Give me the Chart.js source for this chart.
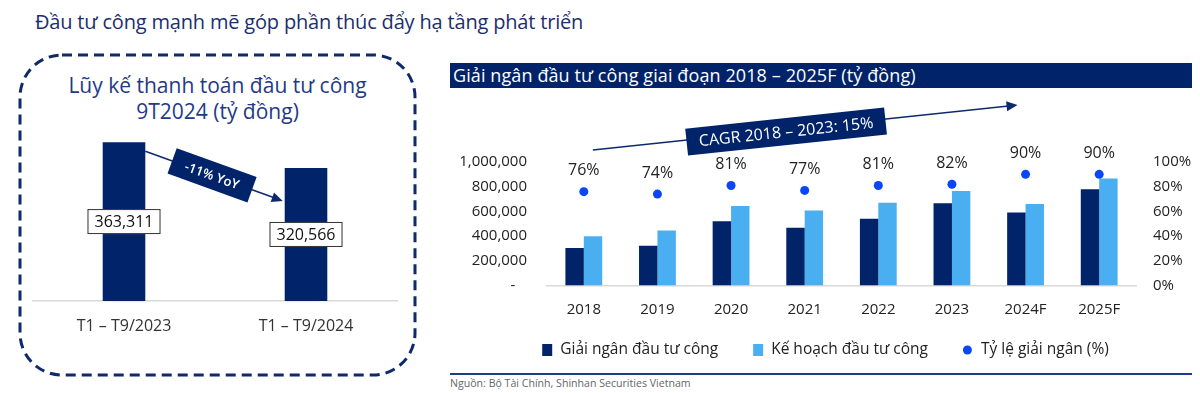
<!DOCTYPE html>
<html><head><meta charset="utf-8">
<script src="https://cdn.jsdelivr.net/npm/chart.js@4.4.1/dist/chart.umd.min.js"></script>
<style>
html,body{margin:0;padding:0;background:#fff;width:1200px;height:393px;overflow:hidden;font-family:'Open Sans',sans-serif;}
.abs{position:absolute;}
#heading{left:35px;top:8px;font-size:20px;letter-spacing:-0.18px;color:#1b2f6e;white-space:nowrap;}
#leftTitle{left:20px;width:395px;top:72px;text-align:center;font-size:21px;line-height:26px;color:#1f3a86;}
#rightBar{left:450px;top:63px;width:742px;height:25px;background:#00236a;}
#rightTitle{left:453px;top:63px;height:25px;line-height:25px;font-size:18px;letter-spacing:0.1px;color:#fff;white-space:nowrap;}
#sep{left:450px;top:373px;width:742px;height:2px;background:#1f3a86;}
#source{left:450px;top:376px;font-size:10.6px;line-height:14px;color:#666;white-space:nowrap;}
</style>
</head>
<body>
<div id="heading" class="abs">Đầu tư công mạnh mẽ góp phần thúc đẩy hạ tầng phát triển</div>
<svg class="abs" style="left:0;top:0" width="440" height="393">
  <rect x="20" y="55" width="395" height="320" rx="42" ry="42" fill="none" stroke="#0f2a6b" stroke-width="3" stroke-dasharray="10 6"/>
</svg>
<div id="leftTitle" class="abs">Lũy kế thanh toán đầu tư công<br>9T2024 (tỷ đồng)</div>
<div class="abs" style="left:20px;top:55px;width:395px;height:320px;"><canvas id="c1" width="395" height="320"></canvas></div>
<div id="rightBar" class="abs"></div>
<div id="rightTitle" class="abs">Giải ngân đầu tư công giai đoạn 2018 – 2025F (tỷ đồng)</div>
<div class="abs" style="left:440px;top:95px;width:760px;height:274px;"><canvas id="c2" width="760" height="274"></canvas></div>
<div id="sep" class="abs"></div>
<div id="source" class="abs">Nguồn: Bộ Tài Chính, Shinhan Securities Vietnam</div>
<script>
// ---- data ----
const periods = ['T1 – T9/2023', 'T1 – T9/2024'];
const payments = [363311, 320566];
const yoyLabel = '-11% YoY';

const categories = ['2018', '2019', '2020', '2021', '2022', '2023', '2024F', '2025F'];
const disbursed = [304000, 322000, 521000, 467000, 540000, 665000, 592000, 780000];
const planned = [398000, 445000, 643000, 608000, 671000, 766000, 660000, 867000];
const rate = [76, 74, 81, 77, 81, 82, 90, 90];
const leftTicks = [0, 200000, 400000, 600000, 800000, 1000000];
const rightTicks = [0, 20, 40, 60, 80, 100];
const cagrLabel = 'CAGR 2018 – 2023: 15%';

const NAVY = '#00236a';
const LIGHT = '#4aaff0';
const DOT = '#0a46f5';
const FONT = 'Open Sans';

Chart.defaults.font.family = FONT;
Chart.defaults.color = '#333';

function arrow(ctx, x0, y0, x1, y1, color) {
  const a = Math.atan2(y1 - y0, x1 - x0);
  ctx.save();
  ctx.strokeStyle = color; ctx.fillStyle = color; ctx.lineWidth = 1.6;
  ctx.beginPath(); ctx.moveTo(x0, y0); ctx.lineTo(x1 - 9 * Math.cos(a), y1 - 9 * Math.sin(a)); ctx.stroke();
  ctx.translate(x1, y1); ctx.rotate(a);
  ctx.beginPath(); ctx.moveTo(0, 0); ctx.lineTo(-11, -5); ctx.lineTo(-11, 5); ctx.closePath(); ctx.fill();
  ctx.restore();
}
function tag(ctx, cx, cy, ang, w, h, text, font) {
  ctx.save();
  ctx.translate(cx, cy); ctx.rotate(ang);
  ctx.fillStyle = NAVY; ctx.fillRect(-w / 2, -h / 2, w, h);
  ctx.fillStyle = '#fff'; ctx.font = font; ctx.textAlign = 'center'; ctx.textBaseline = 'middle';
  ctx.fillText(text, 0, 1);
  ctx.restore();
}

// ---- left chart ----
const leftPlugin = {
  id: 'leftDeco',
  afterDatasetsDraw(chart) {
    const ctx = chart.ctx;
    const meta = chart.getDatasetMeta(0);
    const base = chart.scales.y.getPixelForValue(chart.scales.y.min);
    ctx.save();
    ctx.font = '16px ' + FONT;
    meta.data.forEach((b, i) => {
      const txt = payments[i].toLocaleString('en-US');
      const tw = ctx.measureText(txt).width;
      const w = tw + 14, h = 25;
      const cy = (b.y + base) / 2;
      ctx.fillStyle = '#fff'; ctx.fillRect(b.x - w / 2, cy - h / 2, w, h);
      ctx.strokeStyle = '#333'; ctx.lineWidth = 1; ctx.strokeRect(b.x - w / 2 + 0.5, cy - h / 2 + 0.5, w - 1, h - 1);
      ctx.fillStyle = '#111'; ctx.textAlign = 'center'; ctx.textBaseline = 'middle';
      ctx.fillText(txt, b.x, cy + 1);
    });
    ctx.restore();
    const b0 = meta.data[0], b1 = meta.data[1];
    const x0 = b0.x + b0.width / 2, y0 = b0.y + 9;
    const x1 = b1.x - b1.width / 2 - 2, y1 = b1.y + 33;
    arrow(ctx, x0, y0, x1, y1, '#0f2a6b');
    const t = 0.486;
    tag(ctx, x0 + (x1 - x0) * t, y0 + (y1 - y0) * t, Math.atan2(y1 - y0, x1 - x0), 85, 27, yoyLabel, '600 13px ' + FONT);
  }
};
new Chart(document.getElementById('c1'), {
  type: 'bar',
  data: { labels: periods, datasets: [{ data: payments, backgroundColor: NAVY, barPercentage: 0.234, categoryPercentage: 1 }] },
  options: {
    responsive: false, animation: false, devicePixelRatio: 1,
    layout: { padding: { left: 13, right: 18, top: 65, bottom: 34 } },
    plugins: { legend: { display: false }, tooltip: { enabled: false } },
    scales: {
      y: { display: false, min: 100000, max: 400000 },
      x: {
        grid: { display: false, drawTicks: false },
        border: { color: '#d9d9d9', width: 1.5 },
        ticks: { padding: 15.5, font: { size: 16 }, color: '#333' },
        afterFit(s) { s.height = 40; }
      }
    }
  },
  plugins: [leftPlugin]
});

// ---- right chart ----
const rightPlugin = {
  id: 'rightDeco',
  afterDatasetsDraw(chart) {
    const ctx = chart.ctx;
    const meta = chart.getDatasetMeta(2);
    ctx.save();
    ctx.font = '16px ' + FONT; ctx.fillStyle = '#222'; ctx.textAlign = 'center'; ctx.textBaseline = 'middle';
    meta.data.forEach((p, i) => ctx.fillText(rate[i] + '%', p.x, p.y - 21));
    ctx.restore();
    const xs = chart.scales.x, ys = chart.scales.y;
    const x0 = xs.getPixelForValue(0) + 9, y0 = ys.top - 12;
    const x1 = xs.getPixelForValue(6) - 8, y1 = ys.top - 57;
    arrow(ctx, x0, y0, x1, y1, '#0f2a6b');
    const t = 0.455;
    tag(ctx, x0 + (x1 - x0) * t, y0 + (y1 - y0) * t + 2, Math.atan2(y1 - y0, x1 - x0), 200, 27, cagrLabel, '16px ' + FONT);
  },
  afterDraw(chart) {
    // legend built from the datasets
    const ctx = chart.ctx;
    const ds = chart.data.datasets;
    ctx.save();
    ctx.font = '15.5px ' + FONT;
    const mark = 10, gapText = 8, gapItem = 35;
    const widths = ds.map(d => mark + gapText + ctx.measureText(d.label).width);
    const total = widths.reduce((a, b) => a + b, 0) + gapItem * (ds.length - 1);
    let x = 385.5 - total / 2;
    const cy = chart.scales.x.bottom + 24.5;
    ds.forEach((d, i) => {
      ctx.fillStyle = d.backgroundColor;
      if (d.type === 'line') { ctx.beginPath(); ctx.arc(x + 4.5, cy, 4.5, 0, Math.PI * 2); ctx.fill(); }
      else ctx.fillRect(x, cy - 6, mark, 12);
      ctx.fillStyle = '#222'; ctx.textAlign = 'left'; ctx.textBaseline = 'middle';
      ctx.fillText(d.label, x + mark + gapText, cy);
      x += widths[i] + gapItem;
    });
    ctx.restore();
  }
};
new Chart(document.getElementById('c2'), {
  type: 'bar',
  data: {
    labels: categories,
    datasets: [
      { label: 'Giải ngân đầu tư công', data: disbursed, backgroundColor: NAVY, yAxisID: 'y', order: 2 },
      { label: 'Kế hoạch đầu tư công', data: planned, backgroundColor: LIGHT, yAxisID: 'y', order: 2 },
      { type: 'line', label: 'Tỷ lệ giải ngân (%)', data: rate, showLine: false, yAxisID: 'y1', order: 0,
        pointRadius: 4.5, pointBackgroundColor: DOT, pointBorderWidth: 0, borderColor: DOT, backgroundColor: DOT }
    ]
  },
  options: {
    responsive: false, animation: false, devicePixelRatio: 1,
    categoryPercentage: 0.5, barPercentage: 1.0,
    layout: { padding: { left: 8, right: 0, top: 67, bottom: 43.5 } },
    plugins: { tooltip: { enabled: false }, legend: { display: false } },
    scales: {
      x: {
        grid: { display: false, drawTicks: false },
        border: { color: '#d9d9d9', width: 1.5 },
        ticks: { padding: 15.5, font: { size: 15 }, color: '#222' },
        afterFit(s) { s.height = 40; }
      },
      y: {
        position: 'left', min: 0, max: 1000000,
        grid: { display: false, drawTicks: false }, border: { display: false },
        afterBuildTicks(s) { s.ticks = leftTicks.map(v => ({ value: v })); },
        ticks: { padding: 20, font: { size: 15 }, color: '#222',
          callback: v => v === 0 ? '-   ' : Number(v).toLocaleString('en-US') },
        afterFit(s) { s.width = 99; }
      },
      y1: {
        position: 'right', min: 0, max: 100,
        grid: { display: false, drawTicks: false }, border: { display: false },
        afterBuildTicks(s) { s.ticks = rightTicks.map(v => ({ value: v })); },
        ticks: { padding: 17, font: { size: 15 }, color: '#222', callback: v => v + '%' },
        afterFit(s) { s.width = 64; }
      }
    }
  },
  plugins: [rightPlugin]
});
</script>
</body></html>
